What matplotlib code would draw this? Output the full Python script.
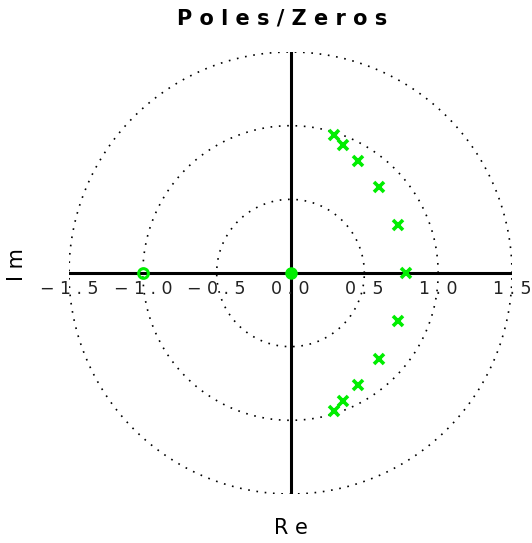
import numpy as np
import matplotlib.pyplot as plt

# pole / zero locations
pole_re = [0.293, 0.354, 0.456, 0.602, 0.727, 0.785, 0.727, 0.602, 0.456, 0.354, 0.293]
pole_im = [0.936, 0.869, 0.760, 0.586, 0.327, 0.0, -0.327, -0.586, -0.760, -0.869, -0.936]
zero_re = [-1.0, 0.0]
zero_im = [0.0, 0.0]
radii = [0.5, 1.0, 1.5]
ticks = [-1.5, -1.0, -0.5, 0.0, 0.5, 1.0, 1.5]

green = '#00ee00'

fig = plt.figure(figsize=(5.32, 5.43), dpi=100)
ax = fig.add_axes([69/532, 49/543, 443/532, 442/543])
ax.set_xlim(-1.5, 1.5)
ax.set_ylim(-1.5, 1.5)
ax.axis('off')

t = np.linspace(0, 2*np.pi, 400)
for r in radii:
    ax.plot(r*np.cos(t), r*np.sin(t), color='k', lw=1.2, linestyle=(0, (1, 4)))

ax.plot([-1.5, 1.5], [0, 0], color='k', lw=2.2)
ax.plot([0, 0], [-1.5, 1.5], color='k', lw=2.2)

ax.plot(pole_re, pole_im, linestyle='none', marker='x', color=green, ms=7, mew=2.6, zorder=5)
ax.plot(zero_re[0], zero_im[0], linestyle='none', marker='o', mfc='none', mec=green, ms=7, mew=2.2, zorder=5)
ax.plot(zero_re[1], zero_im[1], linestyle='none', marker='o', color=green, ms=8, zorder=5)

for v in ticks:
    lab = '%.1f' % v
    lab = lab.replace('-', '\u2212')
    ax.text(v, -0.045, ' '.join(lab), ha='center', va='top', fontsize=12.5, color='#222222')

fig.text(0.53, 1 - 19/543, ' '.join('Poles/Zeros'), ha='center', va='center', fontsize=15, fontweight='semibold')
fig.text(17/532, 1 - 265/543, ' '.join('Im'), ha='center', va='center', fontsize=15, rotation=90)
fig.text(291/532, 1 - 528/543, ' '.join('Re'), ha='center', va='center', fontsize=15)

plt.savefig('out.png', dpi=100)
